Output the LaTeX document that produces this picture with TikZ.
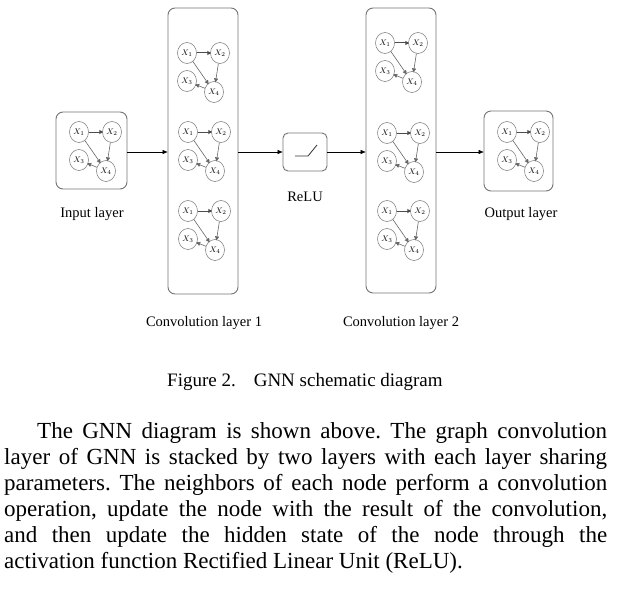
\documentclass[tikz,border=0pt]{standalone}
\usepackage{fontspec}
\setmainfont{Liberation Serif}
\usetikzlibrary{shapes.geometric,arrows.meta,calc}
\newcommand{\mgraph}[3]{%
  \begin{scope}[shift={(#2,#3)}]
    \node[gn] (#1a) at (0,0) {$X_1$};
    \node[gn] (#1b) at (33,0) {$X_2$};
    \node[gn] (#1c) at (0,28) {$X_3$};
    \node[gn] (#1d) at (27,39) {$X_4$};
    \draw[ge, line width=1pt, black!70] (#1a) -- (#1b);
    \draw[ge] (#1a) -- (#1d);
    \draw[ge] (#1b) -- (#1d);
    \draw[ge] (#1d) -- (#1c);
  \end{scope}}
\begin{document}
\begin{tikzpicture}[x=1pt,y=-1pt,
  gn/.style={ellipse, draw=black!55, line width=0.5pt, minimum width=19pt, minimum height=21pt, inner sep=0pt, font=\fontsize{8}{8}\selectfont},
  ge/.style={draw=black!60, line width=0.6pt, -{Triangle[length=4pt,width=4pt]}, shorten >=-1pt},
  bigbox/.style={draw=black!55, line width=0.9pt, rounded corners=7pt, inner sep=0pt},
  conn/.style={draw=black, line width=0.6pt, -{Triangle[length=5pt,width=4pt]}},
  lab/.style={font=\fontsize{14.5}{14.5}\selectfont, anchor=base},
]
\useasboundingbox (0,0) rectangle (639,594);
% boxes
\node[bigbox, minimum width=71pt, minimum height=77pt] (inp) at (91.5,150.5) {};
\node[bigbox, minimum width=70pt, minimum height=286pt] (cv1) at (203,151) {};
\node[bigbox, minimum width=44pt, minimum height=38pt, rounded corners=5pt] (relu) at (305,152) {};
\node[bigbox, minimum width=70pt, minimum height=285pt] (cv2) at (401,150.5) {};
\node[bigbox, minimum width=69pt, minimum height=80pt] (outp) at (518.5,151) {};
% relu icon
\coordinate (r1) at (295,156);
\coordinate (r2) at (308,156);
\coordinate (r3) at (317,145);
\draw[line width=0.8pt, black!80] (r1) -- (r2) -- (r3);
% connectors
\draw[conn] (inp.east |- 0,152) -- (cv1.west |- 0,152);
\draw[conn] (cv1.east |- 0,152) -- (relu.west |- 0,152);
\draw[conn] (relu.east |- 0,152) -- (cv2.west |- 0,152);
\draw[conn] (cv2.east |- 0,152) -- (outp.west |- 0,152);
% mini graphs
\mgraph{g0}{79}{132}
\mgraph{g1}{187}{53}
\mgraph{g2}{188}{132}
\mgraph{g3}{188}{211}
\mgraph{g4}{385}{43}
\mgraph{g5}{387}{133}
\mgraph{g6}{387}{211}
\mgraph{g7}{507}{132}
% labels
\node[lab] (linp) at (92,217) {Input layer};
\node[lab] (lrelu) at (305,201) {ReLU};
\node[lab] (lout) at (521,217) {Output layer};
\node[lab] (lcv1) at (204,326) {Convolution layer 1};
\node[lab] (lcv2) at (401,326) {Convolution layer 2};
% caption
\node[anchor=base west, inner sep=0pt, font=\fontsize{19}{19}\selectfont] (cap) at (167,386) {Figure 2.\hspace{18pt}GNN schematic diagram};
% paragraph
\node[anchor=base west, inner sep=0pt, text width=603pt, align=justify, font=\fontsize{23}{26}\selectfont] (para) at (4,438)
{\frenchspacing\hspace*{33pt}The GNN diagram is shown above. The graph convolution\linebreak
layer of GNN is stacked by two layers with each layer sharing\linebreak
parameters. The neighbors of each node perform a convolution\linebreak
operation, update the node with the result of the convolution,\linebreak
and then update the hidden state of the node through the\linebreak
activation function Rectified Linear Unit (ReLU).};
\end{tikzpicture}
\end{document}
